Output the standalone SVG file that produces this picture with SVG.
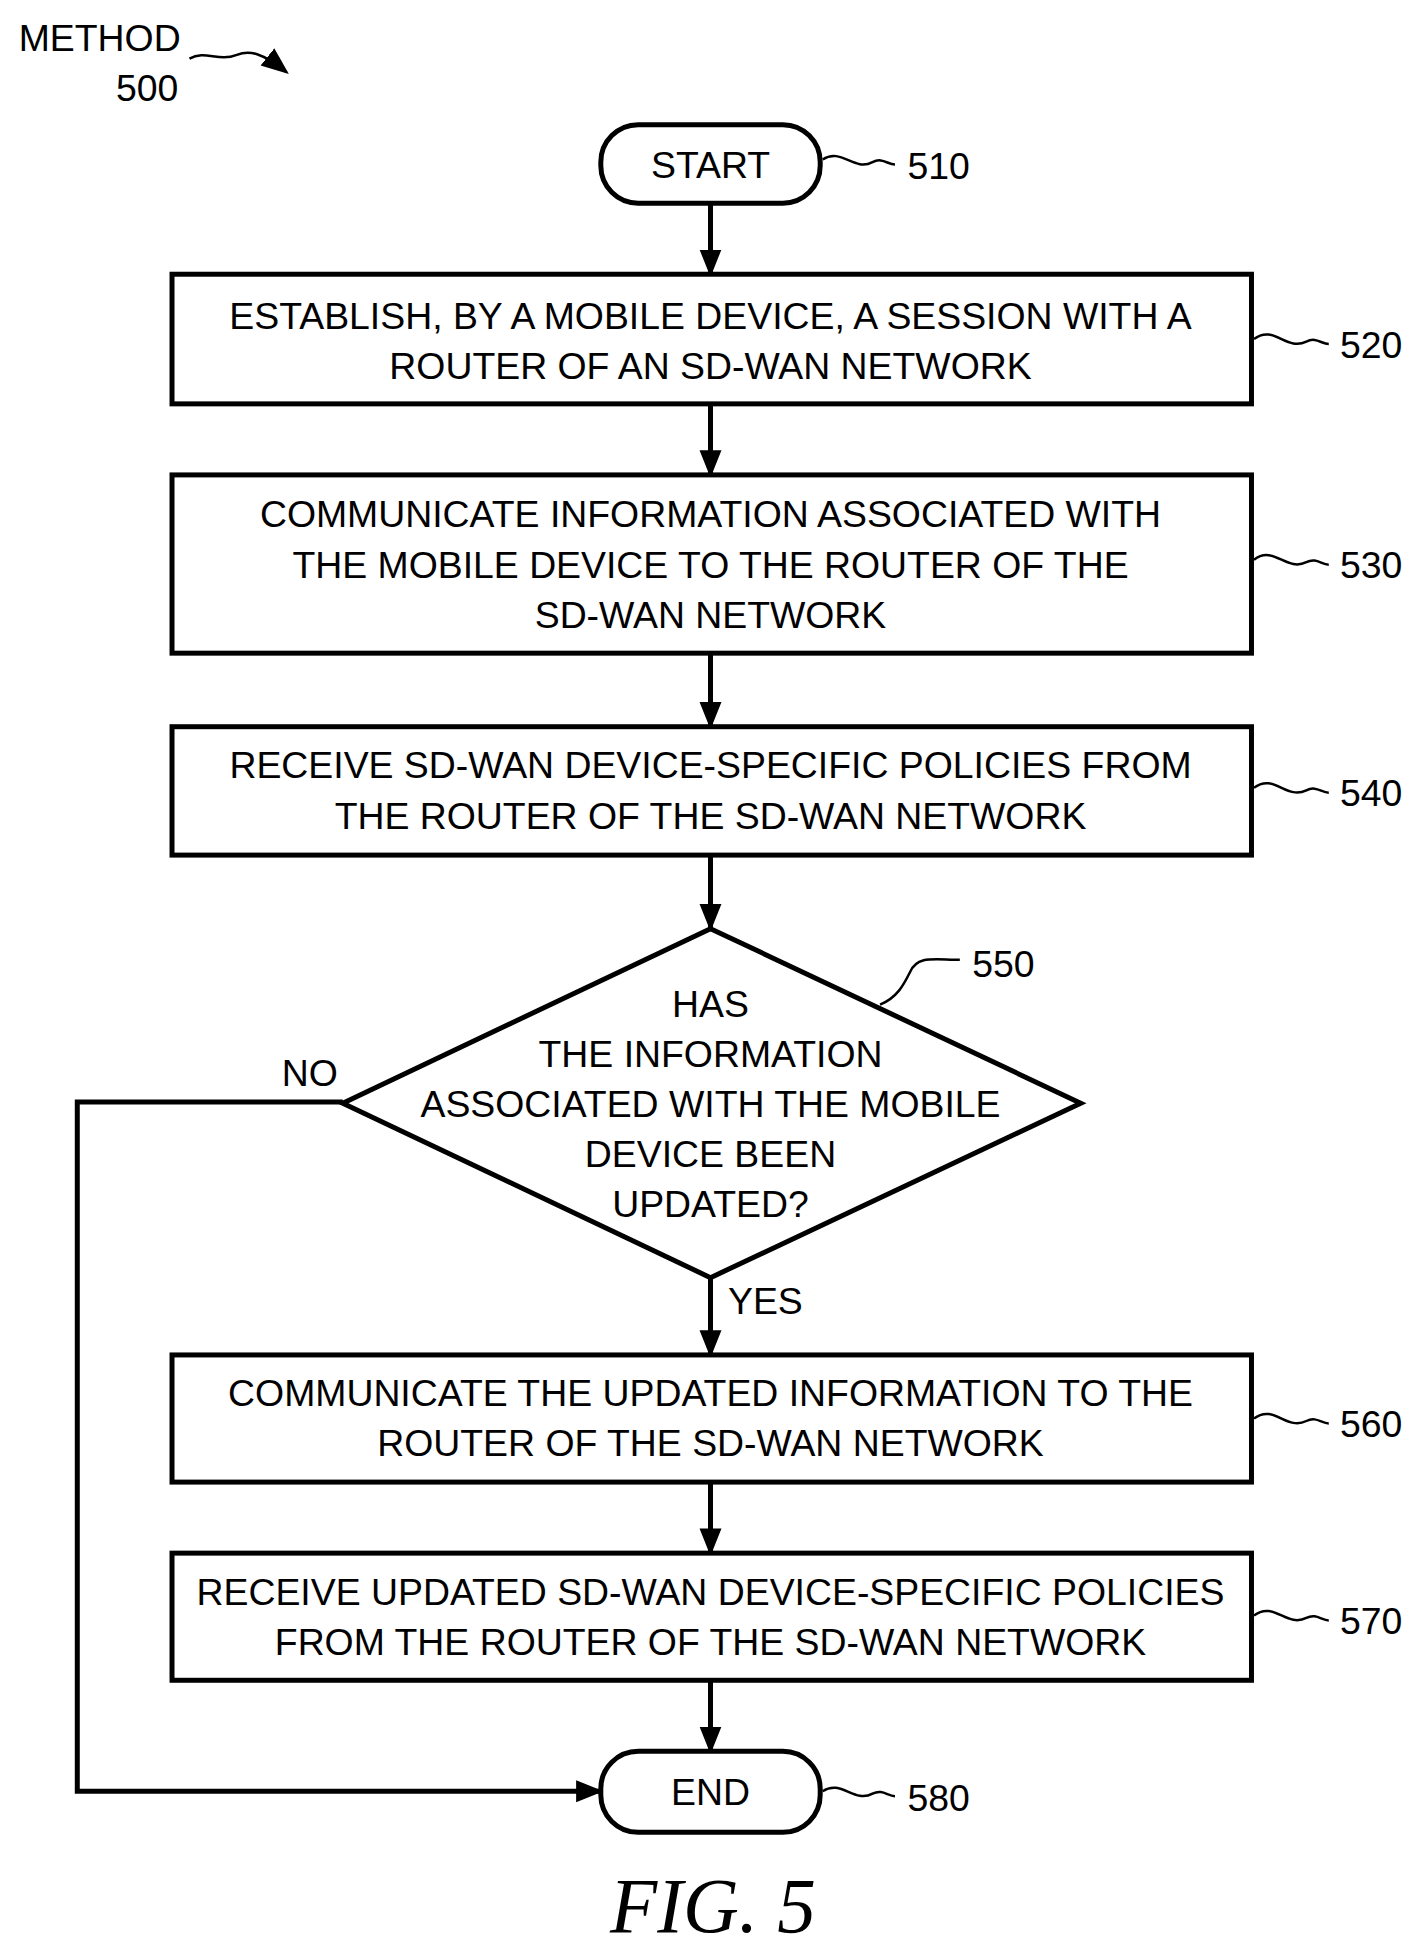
<svg xmlns="http://www.w3.org/2000/svg" width="1422" height="1947" viewBox="0 0 1422 1947">
<style>
.b{fill:#fff;stroke:#000;stroke-width:4}
.t{font-family:"Liberation Sans",Arial,sans-serif;font-size:30px;text-anchor:middle;fill:#000}
.l{font-family:"Liberation Sans",Arial,sans-serif;font-size:30px;fill:#000}
.c{fill:none;stroke:#000;stroke-width:4}
.s{fill:none;stroke:#000;stroke-width:2}
</style>
<defs><marker id="a" markerWidth="8" markerHeight="8" refX="7" refY="4" orient="auto" markerUnits="userSpaceOnUse" viewBox="0 0 8 8"><path d="M0,0L8,4L0,8z"/></marker>
<marker id="h" viewBox="0 0 10 10" refX="9" refY="5" markerWidth="22" markerHeight="22" markerUnits="userSpaceOnUse" orient="auto"><path d="M0,1L10,5L0,9z"/></marker></defs>
<rect width="1422" height="1947" fill="#fff"/>
<g transform="scale(1.2465)">
<g id="title"><text class="l" x="15" y="41">METHOD</text><text class="l" x="93" y="81">500</text>
<path class="s" d="M152,47 C165,40 175,50 190,44 C200,40 210,42 230,58" marker-end="url(#h)"/></g>
<g id="connectors">
<line class="c" x1="570" y1="163" x2="570" y2="220" marker-end="url(#h)"/>
<line class="c" x1="570" y1="324" x2="570" y2="381" marker-end="url(#h)"/>
<line class="c" x1="570" y1="524" x2="570" y2="583" marker-end="url(#h)"/>
<line class="c" x1="570" y1="686" x2="570" y2="745" marker-end="url(#h)"/>
<line class="c" x1="570" y1="1025" x2="570" y2="1087" marker-end="url(#h)"/>
<line class="c" x1="570" y1="1189" x2="570" y2="1246" marker-end="url(#h)"/>
<line class="c" x1="570" y1="1348" x2="570" y2="1405" marker-end="url(#h)"/>
<polyline class="c" points="275,884 62,884 62,1437 482,1437" marker-end="url(#h)"/>
<text class="l" x="226" y="871">NO</text><text class="l" x="584" y="1054">YES</text>
</g>
<g id="n510"><rect class="b" x="482" y="100" width="176" height="63" rx="30"/><text class="t" x="570" y="143">START</text>
<path class="s" d="M660,128 C675,118 685,138 700,130 C708,126 712,132 718,132"/><text class="l" x="728" y="144">510</text></g>
<g id="n520"><rect class="b" x="138" y="220" width="866" height="104"/><text class="t" x="570" y="264">ESTABLISH, BY A MOBILE DEVICE, A SESSION WITH A</text><text class="t" x="570" y="304">ROUTER OF AN SD-WAN NETWORK</text>
<path class="s" d="M1006,272 C1022,260 1032,282 1048,274 C1056,270 1060,276 1066,276"/><text class="l" x="1075" y="287">520</text></g>
<g id="n530"><rect class="b" x="138" y="381" width="866" height="143"/><text class="t" x="570" y="423">COMMUNICATE INFORMATION ASSOCIATED WITH</text><text class="t" x="570" y="464">THE MOBILE DEVICE TO THE ROUTER OF THE</text><text class="t" x="570" y="504">SD-WAN NETWORK</text>
<path class="s" d="M1006,449 C1022,437 1032,459 1048,451 C1056,447 1060,453 1066,453"/><text class="l" x="1075" y="464">530</text></g>
<g id="n540"><rect class="b" x="138" y="583" width="866" height="103"/><text class="t" x="570" y="624">RECEIVE SD-WAN DEVICE-SPECIFIC POLICIES FROM</text><text class="t" x="570" y="665">THE ROUTER OF THE SD-WAN NETWORK</text>
<path class="s" d="M1006,632 C1022,620 1032,642 1048,634 C1056,630 1060,636 1066,636"/><text class="l" x="1075" y="647">540</text></g>
<g id="n550"><polygon class="b" points="570,745 867,885 570,1025 275,885"/>
<text class="t" x="570" y="816">HAS</text><text class="t" x="570" y="856">THE INFORMATION</text><text class="t" x="570" y="896">ASSOCIATED WITH THE MOBILE</text><text class="t" x="570" y="936">DEVICE BEEN</text><text class="t" x="570" y="976">UPDATED?</text>
<path class="s" d="M706,806 C720,800 725,790 730,780 C736,766 750,770 770,770"/><text class="l" x="780" y="784">550</text></g>
<g id="n560"><rect class="b" x="138" y="1087" width="866" height="102"/><text class="t" x="570" y="1128">COMMUNICATE THE UPDATED INFORMATION TO THE</text><text class="t" x="570" y="1168">ROUTER OF THE SD-WAN NETWORK</text>
<path class="s" d="M1006,1138 C1022,1126 1032,1148 1048,1140 C1056,1136 1060,1142 1066,1142"/><text class="l" x="1075" y="1153">560</text></g>
<g id="n570"><rect class="b" x="138" y="1246" width="866" height="102"/><text class="t" x="570" y="1288">RECEIVE UPDATED SD-WAN DEVICE-SPECIFIC POLICIES</text><text class="t" x="570" y="1328">FROM THE ROUTER OF THE SD-WAN NETWORK</text>
<path class="s" d="M1006,1296 C1022,1284 1032,1306 1048,1298 C1056,1294 1060,1300 1066,1300"/><text class="l" x="1075" y="1311">570</text></g>
<g id="n580"><rect class="b" x="482" y="1405" width="176" height="65" rx="30"/><text class="t" x="570" y="1448">END</text>
<path class="s" d="M660,1437 C675,1427 685,1447 700,1439 C708,1435 712,1441 718,1441"/><text class="l" x="728" y="1453">580</text></g>
<text x="572" y="1550" style="font-family:'Liberation Serif',serif;font-style:italic;font-size:62px;text-anchor:middle">FIG. 5</text>
</g>
</svg>
